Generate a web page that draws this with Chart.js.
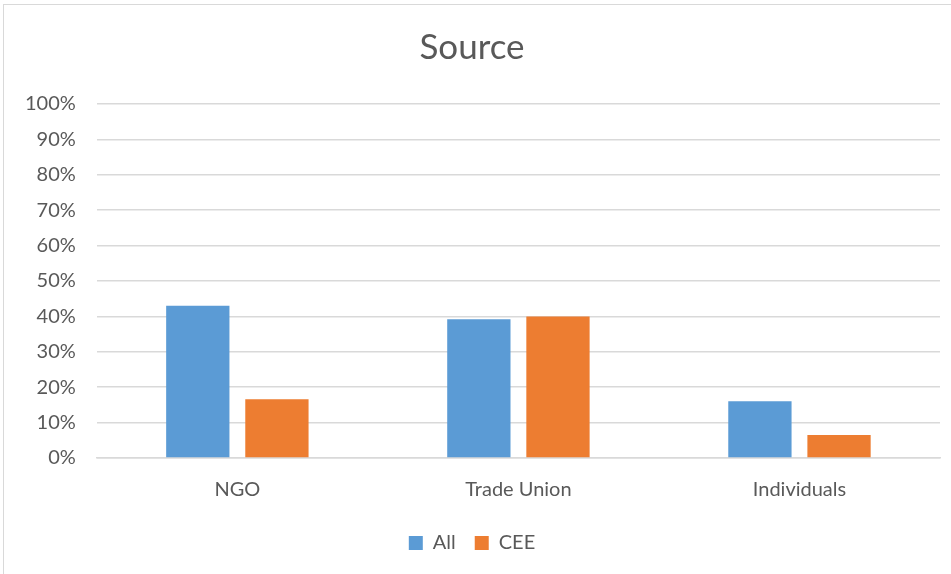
<!DOCTYPE html>
<html>
<head>
<meta charset="utf-8">
<script src="https://cdn.jsdelivr.net/npm/chart.js@4"></script>
<style>
  body { margin: 0; background: #fff; }
  #frame { position: absolute; left: 3px; top: 4px; width: 960px; height: 580px; border: 1px solid #d9d9d9; }
  #wrap { position: absolute; left: 0; top: 0; width: 951px; height: 574px; }
</style>
</head>
<body>
<div id="frame"></div>
<div id="wrap"><canvas id="barChart"></canvas></div>
<script>
const categories = ['NGO', 'Trade Union', 'Individuals'];
const allValues = [43, 39.2, 16];
const ceeValues = [16.6, 40, 6.5];
const yTicks = [0, 10, 20, 30, 40, 50, 60, 70, 80, 90, 100];

const ctx = document.getElementById('barChart');

new Chart(ctx, {
  type: 'bar',
  data: {
    labels: categories,
    datasets: [{
      label: 'All',
      data: allValues,
      backgroundColor: '#5b9bd5',
      categoryPercentage: 0.563,
      barPercentage: 0.8
    }, {
      label: 'CEE',
      data: ceeValues,
      backgroundColor: '#ed7d31',
      categoryPercentage: 0.563,
      barPercentage: 0.8
    }]
  },
  options: {
    responsive: true,
    maintainAspectRatio: false,
    animation: false,
    layout: { padding: { left: 4, right: 11, top: 27, bottom: 11 } },
    plugins: {
      title: {
        display: true,
        text: 'Source',
        color: '#595959',
        font: { family: 'Lato', size: 35, weight: 'normal' },
        padding: { top: 0, bottom: 35 }
      },
      legend: {
        position: 'bottom',
        labels: {
          color: '#595959',
          font: { family: 'Lato', size: 20 },
          boxWidth: 14,
          boxHeight: 14,
          padding: 19
        }
      },
      tooltip: { enabled: false }
    },
    scales: {
      x: {
        grid: { display: false },
        border: { color: '#d9d9d9', width: 1.5 },
        ticks: { color: '#595959', font: { family: 'Lato', size: 20 }, padding: 12 }
      },
      y: {
        min: 0,
        max: 100,
        afterBuildTicks: axis => { axis.ticks = yTicks.map(v => ({ value: v })); },
        grid: { color: '#d9d9d9', lineWidth: 1.5, drawTicks: false },
        border: { display: false },
        ticks: {
          color: '#595959',
          font: { family: 'Lato', size: 20 },
          padding: 21,
          callback: v => v + '%'
        }
      }
    }
  }
});
</script>
</body>
</html>
